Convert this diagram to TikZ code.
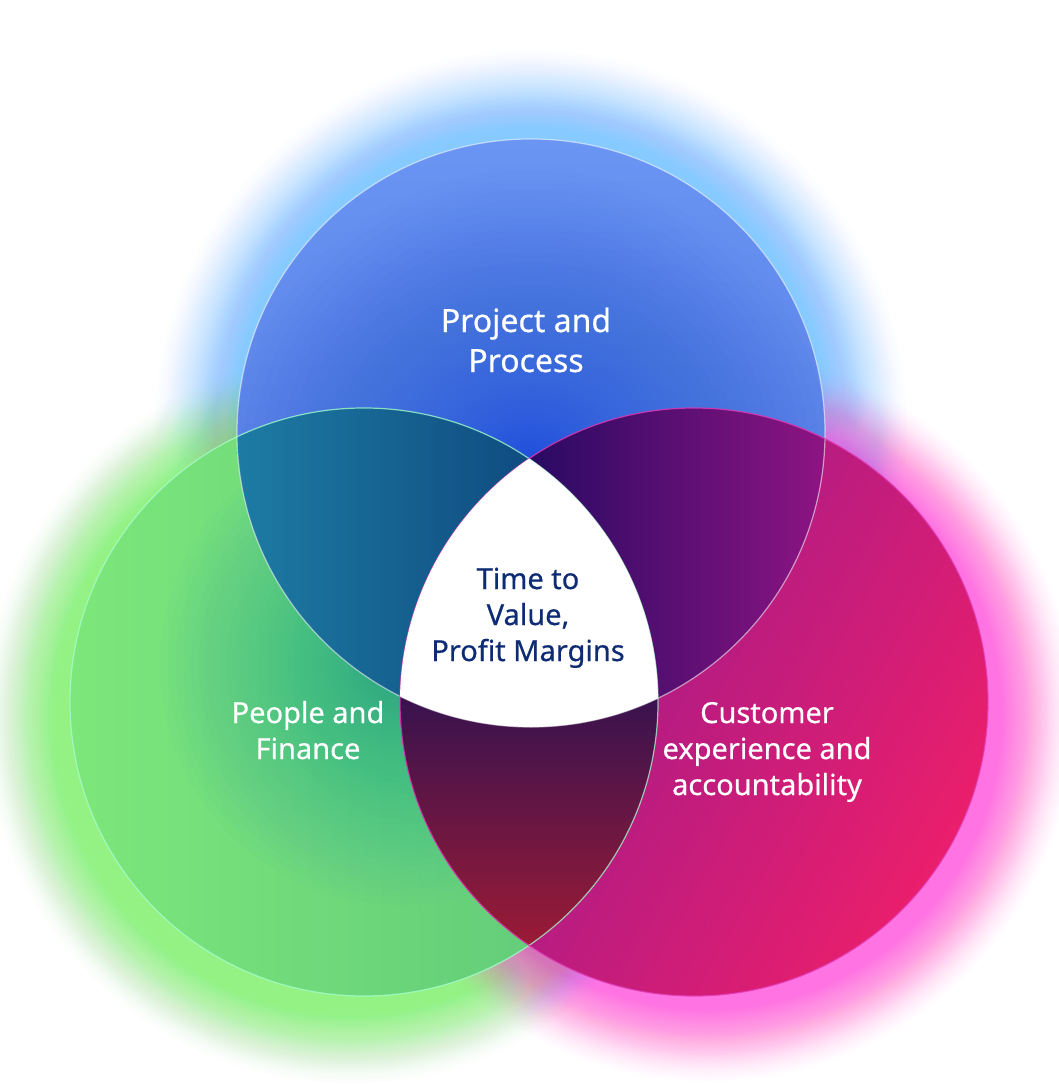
\documentclass[tikz,border=0pt]{standalone}
\usepackage{fontspec}
\setmainfont{Noto Sans}[FakeBold=0.5]
\newfontfamily\labfont{Noto Sans}[FakeBold=0.5]
\definecolor{glowB}{HTML}{86CAFF}
\definecolor{glowG}{HTML}{94F284}
\definecolor{glowP}{HTML}{FF74E2}
\definecolor{topA}{HTML}{1C50DC}
\definecolor{topB}{HTML}{4C72DC}
\definecolor{topC}{HTML}{6A95F3}
\definecolor{grA}{HTML}{7DE77B}
\definecolor{grB}{HTML}{5CC67A}
\definecolor{teal}{HTML}{1CA6AA}
\definecolor{pkA}{HTML}{8C1A94}
\definecolor{pkB}{HTML}{CC1B70}
\definecolor{pkC}{HTML}{EA1E6C}
\definecolor{tlA}{HTML}{1D7CA4}
\definecolor{tlB}{HTML}{0F4B80}
\definecolor{trA}{HTML}{260A62}
\definecolor{trB}{HTML}{8E1483}
\definecolor{btA}{HTML}{351250}
\definecolor{btB}{HTML}{9C1B35}
\definecolor{mint}{HTML}{A6FFD0}
\definecolor{magedge}{HTML}{E23CB8}
\definecolor{navy}{HTML}{0E2C74}
\tikzset{
  outlabel/.style={text=white, align=center, anchor=base, font=\labfont\fontsize{29}{36}\selectfont},
  toplabel/.style={text=white, align=center, anchor=base, font=\labfont\fontsize{32}{40}\selectfont},
  midlabel/.style={text=navy, align=center, anchor=base, font=\labfont\fontsize{29}{36}\selectfont},
  rim/.style={line width=1.2pt}
}
\begin{document}
\begin{tikzpicture}[x=1pt,y=-1pt]
\useasboundingbox (0,0) rectangle (1059,1084);
\fill[white] (0,0) rectangle (1059,1084);
\coordinate (T) at (531,433);
\coordinate (L) at (364,702);
\coordinate (R) at (694,702);
% glows
\foreach \j in {1,...,80}{
  \fill[glowB, opacity=0.024] (531,426) circle[radius={294pt+92pt*(1-sqrt(\j/80))}];
}
\foreach \j in {1,...,80}{
  \fill[glowG, opacity=0.024] (350,718) circle[radius={294pt+80pt*(1-sqrt(\j/80))}];
}
\foreach \j in {1,...,80}{
  \fill[glowP, opacity=0.024] (708,716) circle[radius={294pt+80pt*(1-sqrt(\j/80))}];
}
% base circles
\shade[top color=topC, bottom color=topB] (T) circle[radius=294pt];
\begin{scope}
  \clip (T) circle[radius=294pt];
  \foreach \j in {1,...,60}{
    \fill[topA, opacity=0.025] (531,470) circle[radius={300pt*(\j/60)^2}];
  }
\end{scope}
\shade[left color=grA, right color=grB] (L) circle[radius=294pt];
\begin{scope}
  \clip (L) circle[radius=294pt];
  \foreach \j in {1,...,60}{
    \fill[teal, opacity=0.025] (400,665) circle[radius={240pt*(\j/60)^2}];
  }
\end{scope}
\shade[top color=pkA, middle color=pkB, bottom color=pkC, shading angle=60] (R) circle[radius=294pt];
% overlaps
\begin{scope}
  \clip (T) circle[radius=294pt];
  \clip (L) circle[radius=294pt];
  \shade[left color=tlA, right color=tlB] (236,405) rectangle (532,730);
\end{scope}
\begin{scope}
  \clip (T) circle[radius=294pt];
  \clip (R) circle[radius=294pt];
  \shade[left color=trA, right color=trB] (522,405) rectangle (826,730);
\end{scope}
\begin{scope}
  \clip (L) circle[radius=294pt];
  \clip (R) circle[radius=294pt];
  \shade[top color=btA, bottom color=btB] (395,690) rectangle (662,948);
\end{scope}
% rims
\draw[rim, white, opacity=0.55] (T) circle[radius=294pt];
\draw[rim, mint, opacity=0.75] (L) circle[radius=294pt];
\draw[rim, magedge, opacity=0.8] (R) circle[radius=294pt];
% centre
\begin{scope}
  \clip (T) circle[radius=294pt];
  \clip (L) circle[radius=294pt];
  \fill[white] (R) circle[radius=294pt];
\end{scope}
% labels
\node[toplabel] (pp) at (526,372) {Project and\\Process};
\node[midlabel] (tv) at (528,661) {Time to\\Value,\\Profit Margins};
\node[outlabel] (pf) at (308,759) {People and\\Finance};
\node[outlabel] (ce) at (767,795) {Customer\\experience and\\accountability};
\end{tikzpicture}
\end{document}
